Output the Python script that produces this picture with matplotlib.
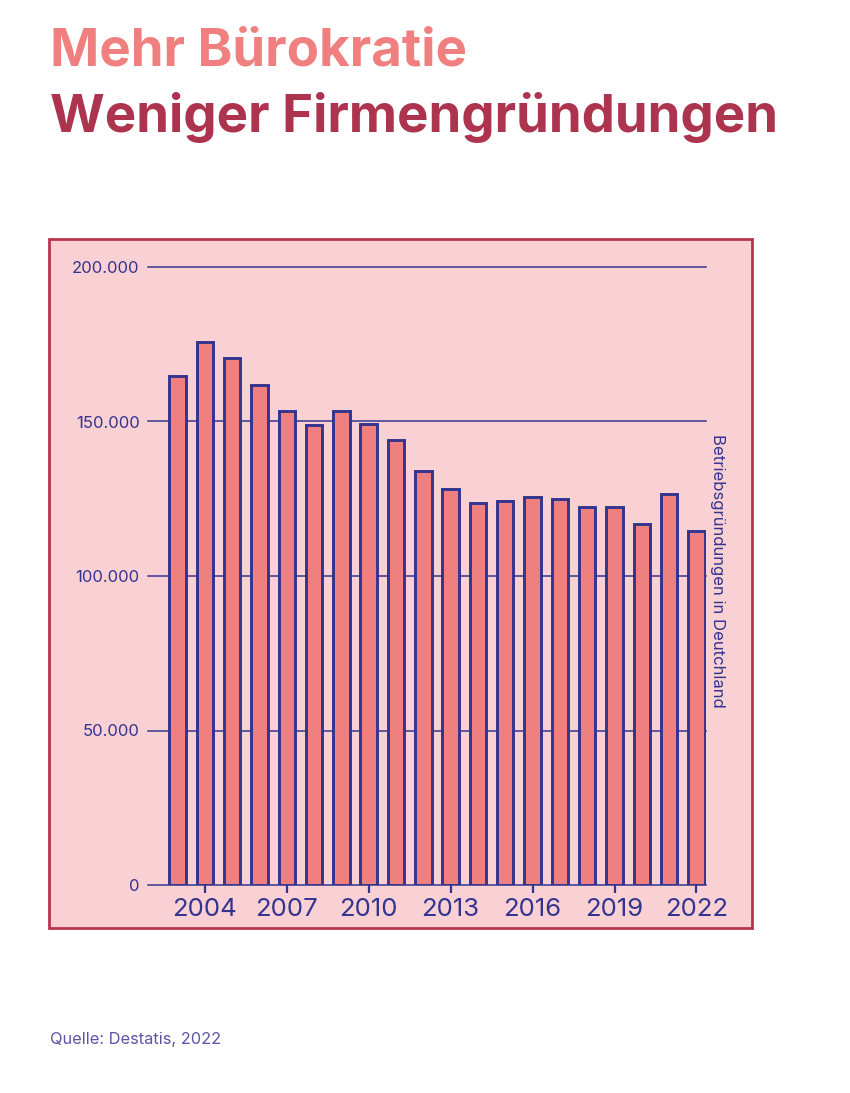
#!/usr/bin/env python
# -*- coding: utf8 -*-
import matplotlib
matplotlib.use('Agg')
import matplotlib.pyplot as plt
from matplotlib.patches import Rectangle

# Betriebsgründungen pro Jahr
years = list(range(2003, 2023))
values = [164700, 175700, 170600, 161800, 153400, 149000, 153400, 149300,
          144000, 134000, 128300, 123700, 124400, 125600, 124900, 122300,
          122200, 116800, 126500, 114700]
yticks = [0, 50000, 100000, 150000, 200000]
ytick_labels = ['0', '50.000', '100.000', '150.000', '200.000']
xticks = [2004, 2007, 2010, 2013, 2016, 2019, 2022]

title1 = 'Mehr Bürokratie'
title2 = 'Weniger Firmengründungen'
side_label = 'Betriebsgründungen in Deutchland'
source = 'Quelle: Destatis, 2022'

BLUE = '#33348f'
BAR = '#f08080'
PANEL = '#f9d0d3'
BORDER = '#b8354f'
TITLE1 = '#f08080'
TITLE2 = '#ad344f'

plt.rcParams['font.family'] = ['Inter', 'DejaVu Sans']

W, H = 850, 1093
fig = plt.figure(figsize=(W / 100, H / 100), dpi=100)
fig.patch.set_facecolor('white')

# pink panel with border, behind the axes
panel = Rectangle((49 / W, 1 - 928 / H), 703 / W, 689 / H,
                  transform=fig.transFigure, facecolor=PANEL,
                  edgecolor=BORDER, linewidth=2, zorder=-5)
fig.patches.append(panel)

ax = fig.add_axes([148 / W, 1 - 885 / H, 558 / W, 618 / H])
ax.set_zorder(2)
ax.set_facecolor('none')
ax.bar(years, values, width=0.6, color=BAR, edgecolor=BLUE,
       linewidth=2.1, zorder=3)
ax.set_xlim(2001.92, 2022.35)
ax.set_ylim(0, 200000)

for s in ax.spines.values():
    s.set_visible(False)
for y in yticks:
    ax.axhline(y, color=BLUE, linewidth=1.1, zorder=1, clip_on=False)

ax.set_yticks(yticks)
ax.set_yticklabels(ytick_labels)
ax.tick_params(axis='y', length=0, pad=6, labelsize=12, labelcolor=BLUE)
ax.set_xticks(xticks)
ax.set_xticklabels([str(x) for x in xticks])
ax.tick_params(axis='x', length=5.5, width=1.6, color=BLUE, pad=4,
               labelsize=18.5, labelcolor=BLUE)

fig.text(718 / W, 1 - 571 / H, side_label, rotation=-90, ha='center',
         va='center', fontsize=12, color=BLUE)

fig.text(50 / W, 1 - 65 / H, title1, fontsize=38, fontweight='bold',
         color=TITLE1, va='baseline', ha='left')
fig.text(50 / W, 1 - 132 / H, title2, fontsize=38, fontweight='bold',
         color=TITLE2, va='baseline', ha='left')

fig.text(50 / W, 1 - 1044 / H, source, fontsize=11.8, color='#5a55a8',
         va='baseline', ha='left')

fig.savefig('out.png', dpi=100)
